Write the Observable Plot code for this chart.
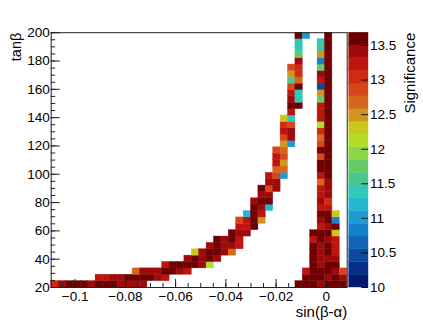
<!DOCTYPE html>
<html><head><meta charset="utf-8">
<script src="https://cdn.jsdelivr.net/npm/d3@7"></script>
<script src="https://cdn.jsdelivr.net/npm/@observablehq/plot@0.6"></script>
<style>
html,body{margin:0;padding:0;background:#fff;}
#chart{position:relative;width:423px;height:327px;}
#chart svg{position:absolute;left:0;top:0;}
</style></head><body><div id="chart"></div>
<script>
// ---- axes / binning ----
const sinRange = [-0.1095, 0.0083];   // sin(beta-alpha) axis range
const tanbRange = [20, 200];          // tan(beta) axis range
const nBinsSin = 40, nBinsTanb = 40;
const sigRange = [10, 13.685];        // colour (significance) range
const nLevels = 20;
// palette, low -> high
const palette = ["#031a70","#072e88","#0c489e","#1264b8","#1680ca","#1c9cd2","#22b8d2","#32c8b8","#48c690","#64cc62",
                 "#8cd44a","#b4dc2a","#cbc61e","#ce961c","#d8661a","#d6461a","#d22a12","#be1410","#9e0a0a","#6e0000"];
const xTicks = [-0.1, -0.08, -0.06, -0.04, -0.02, 0];
const xTickLabels = ["\u22120.1", "\u22120.08", "\u22120.06", "\u22120.04", "\u22120.02", "0"];
const xMinorTicks = [-0.105,-0.1,-0.095,-0.09,-0.085,-0.08,-0.075,-0.07,-0.065,-0.06,-0.055,-0.05,-0.045,-0.04,-0.035,-0.03,-0.025,-0.02,-0.015,-0.01,-0.005,0,0.005];
const yTicks = [20, 40, 60, 80, 100, 120, 140, 160, 180, 200];
const yTickLabels = ["20","40","60","80","100","120","140","160","180","200"];
const yMinorTicks = [20,25,30,35,40,45,50,55,60,65,70,75,80,85,90,95,100,105,110,115,120,125,130,135,140,145,150,155,160,165,170,175,180,185,190,195,200];
const zTicks = [10, 10.5, 11, 11.5, 12, 12.5, 13, 13.5];
const zTickLabels = ["10","10.5","11","11.5","12","12.5","13","13.5"];

// ---- significance values ----
// left branch: [tanβ bin, first sin bin, values...]
const branchRows = [
  [0, 0, [13.05,13.4,13.6,13.6,13.6,13.4,13.6,13.6,13.6,13.4,13.4,13.4,13.4]],
  [1, 6, [13.2,13.2,13.4,13.4,13.6,13.6,13.6,13.6,13.4,13.2]],
  [2, 11, [12.65,13.4,13.4,13.4,13.6,13.6,13.4,13.2]],
  [3, 15, [13.2,13.6,13.6,13.6,13.6,13.4,12.1]],
  [4, 18, [13.4,13.6,13.4,13.6,13.4]],
  [5, 19, [12.3,13.4,13.6,13.6,13.4,12.65]],
  [6, 21, [13.4,13.6,13.4,13.4,13.2]],
  [7, 22, [13.6,13.4,13.6,13.2]],
  [8, 24, [13.6,13.4,13.4]],
  [9, 25, [13.2,13.2,13.6]],
  [10, 25, [12.85,13.2,13.6,12.5]],
  [11, 26, [11.2,13.6,13.2]],
  [12, 27, [13.6,13.4,11.2]],
  [13, 27, [13.4,13.6,13.6]],
  [14, 28, [13.4,13.4]],
  [15, 28, [13.6,12.85,13.4]],
  [16, 29, [13.4,13.4]],
  [17, 29, [13.2,12.85,11.05]],
  [18, 30, [12.65,12.65]],
  [19, 30, [13.2,12.5]],
  [20, 30, [13.2,12.85]],
  [21, 30, [12.85,12.65]],
  [22, 31, [12.5,11.0]],
  [23, 31, [12.85,13.4]],
  [24, 31, [13.2,13.4]],
  [25, 31, [13.05,12.85]],
  [26, 31, [12.3,11.38]],
  [27, 32, [13.2]],
  [28, 32, [13.6,13.6]],
  [29, 32, [13.4,11.38]],
  [30, 32, [13.2,11.38]],
  [31, 32, [12.85,13.6]],
  [32, 32, [11.55,12.65]],
  [33, 32, [12.5,13.05]],
  [34, 32, [12.85,13.05]],
  [35, 33, [13.4]],
  [36, 33, [11.75]],
  [37, 33, [11.38]],
  [38, 33, [11.38]],
  [39, 33, [13.6,11.0]]
];
// near sin(β-α)=0: [sin bin, first tanβ bin, values...]
const columnCells = [
  [33, 0, [13.6]],
  [34, 0, [13.6,13.6,13.2]],
  [35, 0, [13.6,13.6,13.6,13.6,13.6,13.6,13.6,13.2,13.6]],
  [36, 0, [13.4,13.6,13.6,13.4,13.4,13.4,13.4,13.6,13.6,13.2,13.4,13.6,13.2,13.4,13.2,13.2,12.65,13.2,13.6,13.6,
           12.85,13.6,12.85,12.65,13.05,12.1,13.2,13.2,13.2,11.8,12.5,10.5,13.2,13.4,11.75,10.85,12.5,11.55,11.38]],
  [37, 0, [13.6,13.4,13.6,13.6,13.4,13.6,13.6,13.4,13.6,13.4,13.6,13.6,13.2,13.05,13.4,13.4,13.4,13.6,13.6,13.6,
           13.6,13.6,13.6,13.6,13.6,13.6,13.6,13.6,13.6,13.6,13.6,13.6,13.6,13.6,13.6,13.6,13.6,13.6,13.6,13.6]],
  [38, 0, [13.6,13.6,13.4,13.6,13.4,13.2,13.2,13.2,12.3,13.6,10.85,12.3]],
  [39, 0, [13.6,13.4,12.85]]
];

// ---- build ----
const dxBin = (sinRange[1] - sinRange[0]) / nBinsSin;
const dyBin = (tanbRange[1] - tanbRange[0]) / nBinsTanb;
const cells = [];
for (const [j, i0, vals] of branchRows) vals.forEach((v, k) => cells.push({i: i0 + k, j, v}));
for (const [i, j0, vals] of columnCells) vals.forEach((v, k) => cells.push({i, j: j0 + k, v}));

const step = (sigRange[1] - sigRange[0]) / nLevels;
const thresholds = d3.range(1, nLevels).map(k => sigRange[0] + k * step);
const bands = d3.range(nLevels).map(k => ({lo: sigRange[0] + k * step, hi: sigRange[0] + (k + 1) * step, mid: sigRange[0] + (k + 0.5) * step}));
const colorScale = {type: "threshold", domain: thresholds, range: palette};

const W = 423, H = 327, mL = 50.7, mR = 76.3, mT = 32.2, mB = 40;
const innerW = W - mL - mR, innerH = H - mT - mB;
const font = "'Liberation Sans', Arial, Helvetica, sans-serif";
const baseStyle = {fontFamily: font, fontSize: "13.5px", background: "transparent", color: "#000", overflow: "visible"};

const main = Plot.plot({
  width: W, height: H, marginLeft: mL, marginRight: mR, marginTop: mT, marginBottom: mB,
  style: baseStyle,
  x: {domain: sinRange},
  y: {domain: tanbRange},
  color: colorScale,
  marks: [
    Plot.rect(cells, {
      x1: d => sinRange[0] + d.i * dxBin, x2: d => sinRange[0] + (d.i + 1) * dxBin,
      y1: d => tanbRange[0] + d.j * dyBin, y2: d => tanbRange[0] + (d.j + 1) * dyBin,
      fill: d => d.v, stroke: d => d.v, strokeWidth: 0.4
    }),
    Plot.frame({stroke: "#222", strokeWidth: 1}),
    Plot.ruleX(xTicks, {insetTop: innerH - 8, stroke: "#222"}),
    Plot.ruleX(xMinorTicks, {insetTop: innerH - 4, stroke: "#222"}),
    Plot.ruleY(yTicks, {insetRight: innerW - 9, stroke: "#222"}),
    Plot.ruleY(yMinorTicks, {insetRight: innerW - 4.5, stroke: "#222"}),
    Plot.axisX(xTicks, {tickSize: 0, tickPadding: 4.4, label: null, fontSize: 13.5,
      tickFormat: d => xTickLabels[xTicks.indexOf(d)]}),
    Plot.axisY(yTicks, {tickSize: 0, tickPadding: 1.4, label: null, fontSize: 13.5,
      tickFormat: d => yTickLabels[yTicks.indexOf(d)]}),
    Plot.text(["tanβ"], {frameAnchor: "top-left", dx: 20 - mL, rotate: -90, textAnchor: "end", lineAnchor: "bottom", fontSize: 14.5}),
    Plot.text(["sin(β-α)"], {frameAnchor: "bottom-right", dy: 316.8 - (H - mB), textAnchor: "end", lineAnchor: "bottom", fontSize: 15})
  ]
});

const cbL = 348.7, cbR = 368;
const cbar = Plot.plot({
  width: W, height: H, marginLeft: cbL, marginRight: W - cbR, marginTop: mT, marginBottom: mB,
  style: baseStyle,
  x: {axis: null},
  y: {domain: sigRange},
  color: colorScale,
  marks: [
    Plot.rect(bands, {y1: "lo", y2: "hi", fill: "mid", stroke: "mid", strokeWidth: 0.4}),
    Plot.ruleY(zTicks, {insetLeft: (cbR - cbL) - 6.7, stroke: "#111"}),
    Plot.axisY(zTicks, {anchor: "right", tickSize: 0, tickPadding: 1.5, label: null, fontSize: 13.5,
      tickFormat: d => zTickLabels[zTicks.indexOf(d)]}),
    Plot.text(["Significance"], {frameAnchor: "top-right", dx: 414.3 - cbR, rotate: -90, textAnchor: "end", lineAnchor: "bottom", fontSize: 15})
  ]
});

const el = document.getElementById("chart");
el.appendChild(main);
el.appendChild(cbar);
</script></body></html>
